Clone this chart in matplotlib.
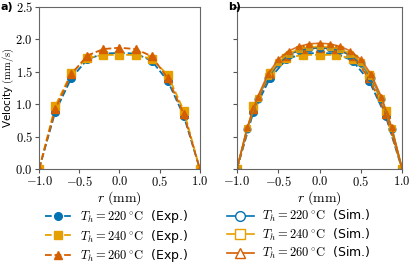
"""Velocity profiles across the channel: experiment vs simulation"""

import matplotlib
matplotlib.use('Agg')
import matplotlib.pyplot as plt
from matplotlib.ticker import FuncFormatter, MultipleLocator

plt.rcParams['mathtext.fontset'] = 'cm'
plt.rcParams['font.family'] = 'DejaVu Sans'
plt.rcParams['font.size'] = 8

# experiment, every 0.2 mm
r_exp = [-1.0, -0.8, -0.6, -0.4, -0.2, 0.0, 0.2, 0.4, 0.6, 0.8, 1.0]
v_exp_220 = [0.0, 0.88, 1.40, 1.69, 1.78, 1.79, 1.78, 1.67, 1.36, 0.82, 0.0]
v_exp_240 = [0.0, 0.97, 1.48, 1.71, 1.76, 1.76, 1.76, 1.70, 1.45, 0.90, 0.0]
v_exp_260 = [0.0, 0.92, 1.46, 1.75, 1.85, 1.87, 1.85, 1.74, 1.40, 0.85, 0.0]

# simulation, every 0.125 mm
r_sim = [-1.0, -0.875, -0.75, -0.625, -0.5, -0.375, -0.25, -0.125, 0.0,
         0.125, 0.25, 0.375, 0.5, 0.625, 0.75, 0.875, 1.0]
v_sim_220 = [0.0, 0.62, 1.08, 1.41, 1.63, 1.76, 1.83, 1.86, 1.87,
             1.86, 1.83, 1.76, 1.63, 1.41, 1.08, 0.62, 0.0]
v_sim_240 = [0.0, 0.63, 1.09, 1.43, 1.65, 1.78, 1.85, 1.88, 1.89,
             1.88, 1.85, 1.78, 1.65, 1.43, 1.09, 0.63, 0.0]
v_sim_260 = [0.0, 0.64, 1.11, 1.46, 1.69, 1.82, 1.89, 1.93, 1.94,
             1.93, 1.89, 1.82, 1.69, 1.46, 1.11, 0.64, 0.0]

temps = [220, 240, 260]
colors = ['#0173b2', '#e69f00', '#d55e00']
markers = ['o', 's', '^']
exp_data = [v_exp_220, v_exp_240, v_exp_260]
sim_data = [v_sim_220, v_sim_240, v_sim_260]

fig = plt.figure(figsize=[4.12, 2.66], dpi=100)
ax_a = fig.add_axes([0.095, 0.365, 0.390, 0.609])
ax_b = fig.add_axes([0.575, 0.365, 0.401, 0.609])

math_fmt = FuncFormatter(lambda x, pos: f'${x:.1f}$')

handles_exp = []
handles_sim = []
for ax in (ax_a, ax_b):
    for T, c, m, v in zip(temps, colors, markers, exp_data):
        h, = ax.plot(r_exp, v, ls='--', color=c, lw=1.3, marker=m, ms=5.5,
                     label=rf'$T_h = {T}\,^{{\circ}}\mathrm{{C}}$  (Exp.)')
        if ax is ax_a:
            handles_exp.append(h)

for T, c, m, v in zip(temps, colors, markers, sim_data):
    ax_b.plot(r_sim, v, ls='-', color=c, lw=1.2, marker=m, ms=5,
              mfc=c + '55', mec=c, mew=0.9, alpha=0.85)
    h, = ax_a.plot([], [], ls='-', color=c, lw=1.2, marker=m, ms=7,
                   mfc='white', mec=c, mew=1.0,
                   label=rf'$T_h = {T}\,^{{\circ}}\mathrm{{C}}$  (Sim.)')
    handles_sim.append(h)

for ax in (ax_a, ax_b):
    ax.set_xlim(-1, 1)
    ax.set_ylim(0, 2.5)
    ax.xaxis.set_major_locator(MultipleLocator(0.5))
    ax.yaxis.set_major_locator(MultipleLocator(0.5))
    ax.xaxis.set_major_formatter(math_fmt)
    ax.yaxis.set_major_formatter(math_fmt)
    ax.tick_params(labelsize=9, length=3, pad=1.5, color='#555555')
    for s in ax.spines.values():
        s.set_color('#666666')
    ax.set_xlabel(r'$r\ (\mathrm{mm})$', fontsize=10, labelpad=0)

ax_b.tick_params(labelleft=False)
ax_a.set_ylabel(r'Velocity $(\mathrm{mm/s})$', fontsize=7.5)
ax_a.yaxis.set_label_coords(-0.145, 0.5)

fig.text(0.002, 0.975, 'a)', fontsize=8, fontweight='bold', va='center')
fig.text(0.553, 0.975, 'b)', fontsize=8, fontweight='bold', va='center')

fig.legend(handles=handles_exp + handles_sim, ncol=2, loc='lower center',
           bbox_to_anchor=(0.505, -0.035), frameon=False, fontsize=9,
           handlelength=2.1, columnspacing=3.1, labelspacing=0.2,
           handletextpad=0.7)

plt.savefig('out.png', dpi=100)
